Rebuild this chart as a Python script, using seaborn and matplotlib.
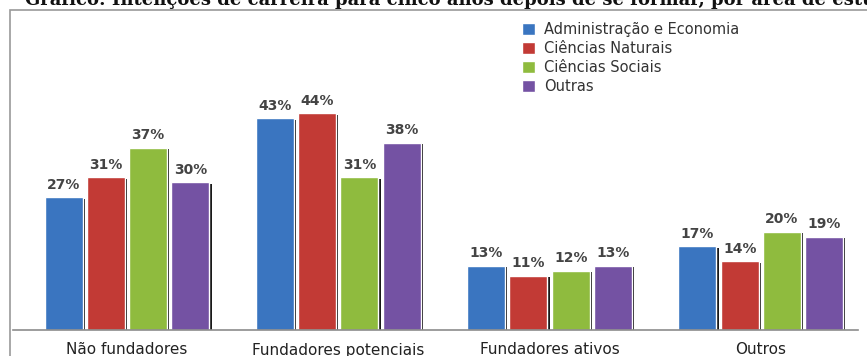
import matplotlib.pyplot as plt
import matplotlib.patheffects as pe
import pandas as pd
import seaborn as sns
from matplotlib.patches import Rectangle

categories = ["Não fundadores", "Fundadores potenciais", "Fundadores ativos", "Outros"]
areas = ["Administração e Economia", "Ciências Naturais", "Ciências Sociais", "Outras"]
adm_eco = [27, 43, 13, 17]
cien_nat = [31, 44, 11, 14]
cien_soc = [37, 31, 12, 20]
outras = [30, 38, 13, 19]
palette = ["#3a75c0", "#c23a35", "#8fbb3e", "#7452a3"]

rows = []
for area, vals in zip(areas, [adm_eco, cien_nat, cien_soc, outras]):
    for cat, v in zip(categories, vals):
        rows.append({"categoria": cat, "area": area, "valor": v})
df = pd.DataFrame(rows)

sns.set_theme(style="white")
plt.rcParams["font.family"] = ["DejaVu Sans"]

fig = plt.figure(figsize=(8.67, 3.56), dpi=100)
W, H = 867, 356
ax = fig.add_axes([13 / W, 1 - 330 / H, (858 - 13) / W, (330 - 20) / H])

sns.barplot(data=df, x="categoria", y="valor", hue="area", palette=palette,
            width=0.8, gap=0.1, saturation=1, ax=ax, legend=True)

for bar in ax.patches:
    bar.set_path_effects([pe.SimplePatchShadow(offset=(1.5, -1), shadow_rgbFace="black", alpha=0.9),
                          pe.Normal()])

for cont in ax.containers:
    ax.bar_label(cont, labels=[f"{int(v)}%" for v in cont.datavalues], padding=4,
                 fontsize=10, fontweight="bold", color="#444444")

ax.set_xlim(-0.54, 3.46)
ax.set_ylim(0, 63)
ax.set_xlabel("")
ax.set_ylabel("")
ax.set_yticks([])
ax.tick_params(axis="x", length=0, pad=9, labelsize=11, labelcolor="#222222")
for s in ["top", "right", "left"]:
    ax.spines[s].set_visible(False)
ax.spines["bottom"].set_color("#8c8c8c")
ax.spines["bottom"].set_linewidth(1.2)

leg = ax.legend(loc="upper left", bbox_to_anchor=(503 / 845, 1.012), frameon=False,
                fontsize=10.5, handlelength=0.9, handleheight=0.9, handletextpad=0.6,
                labelspacing=0.28, borderaxespad=0)
for t in leg.get_texts():
    t.set_color("#333333")
for h in leg.legend_handles:
    h.set_path_effects([])

# moldura do gráfico
fig.patches.append(Rectangle((10 / W, -0.1), 1.0, 1 - 10 / H + 0.1, transform=fig.transFigure,
                             fill=False, edgecolor="#9a9a9a", linewidth=1.2))

# título cortado no topo
fig.text(25 / W, 1 - 5 / H, "Gráfico: Intenções de carreira para cinco anos depois de se formar, por área de estudo",
         family="DejaVu Serif", fontweight="bold", fontsize=13, va="baseline", color="#111111")

fig.savefig("out.png", dpi=100)
